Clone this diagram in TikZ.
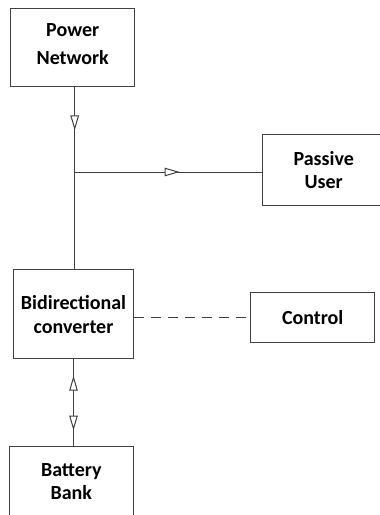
\documentclass[tikz,border=0pt]{standalone}
\usepackage{fontspec}
\setmainfont{Carlito}
\usetikzlibrary{arrows.meta,decorations.markings}
\begin{document}
\begin{tikzpicture}[x=1pt,y=1pt,
	block/.style={draw=black!75,line width=1pt,align=center,
		font=\fontsize{20}{23.5}\selectfont\bfseries,inner sep=0pt},
	wire/.style={draw=black!75,line width=1pt},
	tri/.tip={Triangle[open,fill=white,length=15pt,width=8.5pt]},
	flow at/.style={postaction={decorate,decoration={markings,
		mark=at position #1 with {\arrow{tri}}}}},
	back at/.style={postaction={decorate,decoration={markings,
		mark=at position #1 with {\arrowreversed{tri}}}}}]
	\useasboundingbox (0,0) rectangle (380,-515);
	
	\node[block,minimum width=124pt,minimum height=78pt,text depth=8pt,
		font=\fontsize{20}{28}\selectfont\bfseries] (pn) at (72.7,-47.7) {Power\\Network};
	\node[block,minimum width=122pt,minimum height=70.3pt] (pu) at (323.7,-169.9) {Passive\\User};
	\node[block,minimum width=119.6pt,minimum height=88.7pt] (conv) at (73.5,-314.3) {Bidirectional\\converter};
	\node[block,minimum width=124pt,minimum height=50.4pt] (ctrl) at (312.7,-317.5) {Control};
	\node[block,minimum width=124pt,minimum height=70pt] (bb) at (71.3,-481.7) {Battery\\Bank};
	
	\coordinate (junc) at (74.7,-172);
	\draw[wire,flow at=0.51] (pn.south -| junc) -- (junc);
	\draw[wire,flow at=0.56] (junc) -- (junc -| pu.west);
	\draw[wire] (junc) -- (conv.north -| junc);
	\draw[wire,dash pattern=on 10pt off 7pt] (conv.east |- ctrl) -- (ctrl.west);
	\draw[wire,back at=0.19,flow at=0.82] (conv.south) -- (conv.south |- bb.north);
\end{tikzpicture}
\end{document}
